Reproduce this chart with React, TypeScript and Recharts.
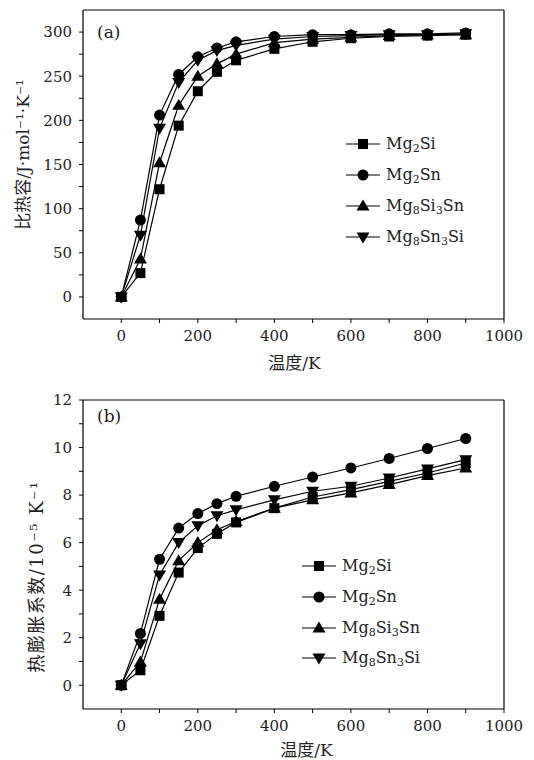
import { LineChart, Line, XAxis, YAxis, Legend } from 'recharts'

const temperatures = [0, 50, 100, 150, 200, 250, 300, 400, 500, 600, 700, 800, 900]

// (a) specific heat, J/(mol K)
const cpMg2Si = [0, 27, 122, 194, 233, 255, 268, 281, 289, 293, 295, 296, 297]
const cpMg2Sn = [0, 87, 206, 252, 272, 282, 289, 295, 297, 297, 298, 298, 299]
const cpMg8Si3Sn = [0, 43, 152, 217, 250, 264, 275, 288, 292, 294, 296, 297, 297]
const cpMg8Sn3Si = [0, 70, 191, 243, 268, 279, 285, 292, 295, 296, 297, 297, 298]

// (b) thermal expansion, 10^-5 /K
const alphaMg2Si = [0, 0.63, 2.92, 4.74, 5.77, 6.37, 6.85, 7.45, 7.92, 8.23, 8.58, 8.93, 9.35]
const alphaMg2Sn = [0, 2.18, 5.3, 6.61, 7.22, 7.64, 7.95, 8.37, 8.76, 9.14, 9.54, 9.96, 10.38]
const alphaMg8Si3Sn = [0, 0.98, 3.62, 5.24, 6.0, 6.54, 6.89, 7.45, 7.8, 8.09, 8.44, 8.82, 9.14]
const alphaMg8Sn3Si = [0, 1.75, 4.64, 6.0, 6.71, 7.13, 7.38, 7.8, 8.16, 8.37, 8.72, 9.1, 9.49]

const seriesNames = ['Mg2Si', 'Mg2Sn', 'Mg8Si3Sn', 'Mg8Sn3Si']
const seriesShapes = ['square', 'circle', 'up', 'down']

const xTickLabels = [0, 200, 400, 600, 800, 1000]
const xMinorTicks = [0, 100, 200, 300, 400, 500, 600, 700, 800, 900, 1000]
const cpTickLabels = [0, 50, 100, 150, 200, 250, 300]
const cpMinorTicks = [0, 25, 50, 75, 100, 125, 150, 175, 200, 225, 250, 275, 300]
const alphaTickLabels = [0, 2, 4, 6, 8, 10, 12]
const alphaMinorTicks = [0, 1, 2, 3, 4, 5, 6, 7, 8, 9, 10, 11, 12]

const FONT = '"DejaVu Serif", "Noto Sans CJK SC", serif'
const INK = '#222'

const cpData = temperatures.map((t, i) => ({
  t,
  s0: cpMg2Si[i],
  s1: cpMg2Sn[i],
  s2: cpMg8Si3Sn[i],
  s3: cpMg8Sn3Si[i],
}))
const alphaData = temperatures.map((t, i) => ({
  t,
  s0: alphaMg2Si[i],
  s1: alphaMg2Sn[i],
  s2: alphaMg8Si3Sn[i],
  s3: alphaMg8Sn3Si[i],
}))

function Marker({ shape, cx, cy }: { shape: string; cx: number; cy: number }) {
  if (shape === 'square') return <rect x={cx - 5} y={cy - 5} width={10} height={10} fill="#000" />
  if (shape === 'circle') return <circle cx={cx} cy={cy} r={5.5} fill="#000" />
  if (shape === 'up')
    return <polygon points={`${cx},${cy - 6.5} ${cx - 6.5},${cy + 4.5} ${cx + 6.5},${cy + 4.5}`} fill="#000" />
  return <polygon points={`${cx},${cy + 6.5} ${cx - 6.5},${cy - 4.5} ${cx + 6.5},${cy - 4.5}`} fill="#000" />
}

function Formula({ name }: { name: string }) {
  const parts = name.split(/(\d+)/)
  return (
    <>
      {parts.map((p, i) =>
        /^\d+$/.test(p) ? (
          <span key={i} style={{ fontSize: 11, position: 'relative', top: 3 }}>{p}</span>
        ) : (
          <span key={i}>{p}</span>
        )
      )}
    </>
  )
}

function LegendBox({ rowH }: { rowH: number }) {
  return (
    <div style={{ display: 'flex', flexDirection: 'column', fontFamily: FONT, color: INK }}>
      {seriesNames.map((n, i) => (
        <div key={n} style={{ height: rowH, display: 'flex', alignItems: 'center' }}>
          <svg width={34} height={16}>
            <line x1={0} y1={8} x2={34} y2={8} stroke="#000" strokeWidth={1.2} />
            <Marker shape={seriesShapes[i]} cx={17} cy={8} />
          </svg>
          <span style={{ marginLeft: 6, fontSize: 16, lineHeight: 1 }}>
            <Formula name={n} />
          </span>
        </div>
      ))}
    </div>
  )
}

const xTick = (p: any) => {
  const v = p.payload.value
  if (!xTickLabels.includes(v)) return <g />
  return (
    <text x={p.x} y={p.y} dy="0.78em" textAnchor="middle" fontSize={15} fontFamily={FONT} fill={INK}>
      {v}
    </text>
  )
}

const makeYTick = (labels: number[]) => (p: any) => {
  const v = p.payload.value
  if (!labels.includes(v)) return <g />
  return (
    <text x={p.x} y={p.y} dy="0.36em" textAnchor="end" fontSize={15} fontFamily={FONT} fill={INK}>
      {v}
    </text>
  )
}

interface PanelProps {
  data: any[]
  top: number
  tag: string
  yDomain: [number, number]
  yLabels: number[]
  yMinor: number[]
  yLabel: string
  yLabelX: number
  yLabelDy: number
  yLabelSize: number
  yLabelSpacing: number
  xLabelDx: number
  xLabelY: number
  marginTop: number
  xAxisH: number
  marginBottom: number
  legendLeft: number
  legendTop: number
  rowH: number
  tagTop: number
}

function Panel(p: PanelProps) {
  const axisStroke = { stroke: '#000', strokeWidth: 1.2 }
  return (
    <div style={{ position: 'absolute', left: 0, top: p.top, width: 534, height: 380 }}>
      <LineChart
        width={534}
        height={380}
        data={p.data}
        margin={{ top: p.marginTop, right: 30, bottom: p.marginBottom, left: 0 }}
      >
        <XAxis
          xAxisId="b"
          dataKey="t"
          type="number"
          domain={[-100, 1000]}
          ticks={xMinorTicks}
          tick={xTick}
          tickSize={4}
          tickMargin={6}
          tickLine={{ stroke: '#000' }}
          axisLine={axisStroke}
          height={p.xAxisH}
          interval={0}
          label={{
            content: (lp: any) => {
              const vb = lp.viewBox
              return (
                <text
                  x={vb.x + vb.width / 2 + p.xLabelDx}
                  y={vb.y + p.xLabelY}
                  textAnchor="middle"
                  dominantBaseline="central"
                  fontSize={17}
                  fontFamily={FONT}
                  fill={INK}
                >
                  温度/K
                </text>
              )
            },
          }}
        />
        <XAxis
          xAxisId="bm"
          dataKey="t"
          type="number"
          orientation="bottom"
          mirror
          domain={[-100, 1000]}
          ticks={xMinorTicks}
          tick={false}
          tickSize={5}
          tickLine={{ stroke: '#000' }}
          axisLine={false}
          interval={0}
        />
        <XAxis
          xAxisId="tm"
          dataKey="t"
          type="number"
          orientation="top"
          mirror
          domain={[-100, 1000]}
          ticks={xMinorTicks}
          tick={false}
          tickSize={5}
          tickLine={{ stroke: '#000' }}
          axisLine={axisStroke}
          interval={0}
        />
        <YAxis
          yAxisId="l"
          type="number"
          domain={p.yDomain}
          ticks={p.yMinor}
          tick={makeYTick(p.yLabels)}
          tickSize={4}
          tickMargin={7}
          tickLine={{ stroke: '#000' }}
          axisLine={axisStroke}
          width={83}
          interval={0}
          label={{
            content: (lp: any) => {
              const vb = lp.viewBox
              const cx = vb.x + p.yLabelX
              const cy = vb.y + vb.height / 2 + p.yLabelDy
              return (
                <text
                  x={cx}
                  y={cy}
                  transform={`rotate(-90 ${cx} ${cy})`}
                  textAnchor="middle"
                  dominantBaseline="central"
                  fontSize={p.yLabelSize}
                  letterSpacing={p.yLabelSpacing}
                  fontFamily={FONT}
                  fill={INK}
                >
                  {p.yLabel}
                </text>
              )
            },
          }}
        />
        <YAxis
          yAxisId="lm"
          type="number"
          orientation="left"
          mirror
          domain={p.yDomain}
          ticks={p.yMinor}
          tick={false}
          tickSize={5}
          tickLine={{ stroke: '#000' }}
          axisLine={false}
          interval={0}
        />
        <YAxis
          yAxisId="rm"
          type="number"
          orientation="right"
          mirror
          domain={p.yDomain}
          ticks={p.yMinor}
          tick={false}
          tickSize={5}
          tickLine={{ stroke: '#000' }}
          axisLine={axisStroke}
          interval={0}
        />
        {seriesNames.map((n, i) => (
          <Line
            key={n}
            xAxisId="b"
            yAxisId="l"
            dataKey={`s${i}`}
            name={n}
            type="linear"
            stroke="#000"
            strokeWidth={1.2}
            dot={(d: any) => <Marker key={`${n}-${d.index}`} shape={seriesShapes[i]} cx={d.cx} cy={d.cy} />}
            activeDot={false}
            isAnimationActive={false}
          />
        ))}
        <Legend
          layout="vertical"
          align="center"
          verticalAlign="middle"
          content={() => <LegendBox rowH={p.rowH} />}
          wrapperStyle={{ left: p.legendLeft, top: p.legendTop, width: 'auto' }}
        />
      </LineChart>
      <div
        style={{
          position: 'absolute',
          left: 97,
          top: p.tagTop,
          fontFamily: FONT,
          fontSize: 17,
          lineHeight: 1,
          color: INK,
        }}
      >
        {p.tag}
      </div>
    </div>
  )
}

export default function App() {
  return (
    <div style={{ position: 'absolute', left: 0, top: 0, width: 534, height: 760, background: '#fff' }}>
      <Panel
        data={cpData}
        top={0}
        tag="(a)"
        yDomain={[-25, 325]}
        yLabels={cpTickLabels}
        yMinor={cpMinorTicks}
        yLabel="比热容/J·mol⁻¹·K⁻¹"
        yLabelX={23}
        yLabelDy={-10}
        yLabelSize={17}
        yLabelSpacing={0}
        xLabelDx={1}
        xLabelY={44}
        marginTop={10}
        xAxisH={50}
        marginBottom={11}
        legendLeft={346}
        legendTop={128}
        rowH={31}
        tagTop={24}
      />
      <Panel
        data={alphaData}
        top={380}
        tag="(b)"
        yDomain={[-1, 12]}
        yLabels={alphaTickLabels}
        yMinor={alphaMinorTicks}
        yLabel="热膨胀系数/10⁻⁵ K⁻¹"
        yLabelX={36}
        yLabelDy={22}
        yLabelSize={18}
        yLabelSpacing={1.5}
        xLabelDx={13}
        xLabelY={41}
        marginTop={20}
        xAxisH={46}
        marginBottom={5}
        legendLeft={302}
        legendTop={171}
        rowH={30.7}
        tagTop={28}
      />
    </div>
  )
}
